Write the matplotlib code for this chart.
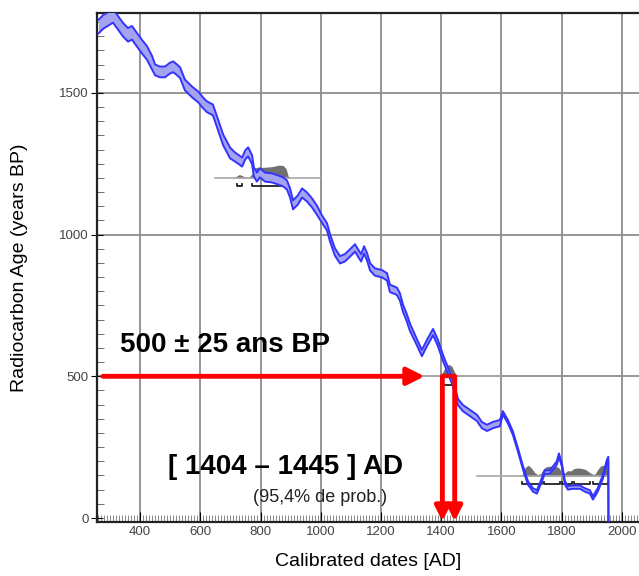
import numpy as np
import matplotlib
matplotlib.use("Agg")
import matplotlib.pyplot as plt
from matplotlib.ticker import MultipleLocator

plt.rcParams['font.family'] = ['Liberation Sans', 'DejaVu Sans']

# calibration curve (centre)
cal_years = [262, 277, 294, 310, 327, 344, 360, 373, 390, 407, 423, 440, 450, 466, 483,
             500, 510, 523, 533, 549, 573, 593, 609, 622, 642, 659, 676, 699, 715, 739,
             749, 759, 772, 778, 788, 798, 815, 838, 858, 875, 888, 898, 908, 924, 938,
             954, 971, 988, 1004, 1021, 1031, 1047, 1064, 1080, 1097, 1114, 1124, 1134,
             1144, 1154, 1164, 1180, 1203, 1220, 1230, 1253, 1263, 1273, 1286, 1296, 1319,
             1336, 1353, 1373, 1389, 1406, 1422, 1439, 1456, 1472, 1495, 1519, 1535, 1552,
             1572, 1595, 1605, 1622, 1638, 1655, 1671, 1688, 1705, 1718, 1734, 1744, 1761,
             1771, 1784, 1791, 1801, 1811, 1821, 1837, 1861, 1877, 1894, 1904, 1920, 1937,
             1950, 1955, 1956]
cal_ages = [1734, 1750, 1761, 1772, 1747, 1722, 1705, 1712, 1687, 1662, 1641, 1606, 1581,
            1574, 1574, 1588, 1592, 1581, 1571, 1528, 1503, 1486, 1465, 1451, 1440, 1387,
            1334, 1288, 1274, 1256, 1281, 1292, 1264, 1221, 1203, 1218, 1203, 1200, 1193,
            1186, 1175, 1147, 1105, 1122, 1147, 1133, 1112, 1085, 1055, 1027, 988, 939, 911,
            918, 935, 953, 935, 918, 946, 921, 886, 868, 862, 851, 810, 800, 780, 741, 706,
            674, 621, 582, 618, 656, 618, 565, 522, 476, 409, 388, 371, 353, 328, 318, 328,
            335, 371, 339, 300, 240, 180, 124, 99, 92, 134, 162, 162, 176, 194, 222, 187,
            124, 106, 109, 109, 99, 92, 71, 99, 145, 198, 210, -200]
# band half-width per period
sigma_limits = [450, 700, 1000, 1300, 1600]
sigma_values = [24, 19, 16, 13, 11, 6]

# probability distributions (gray) : baseline age, years, density
dist1_age = 1200
dist1_years = [650, 700, 715, 730, 745, 760, 772, 780, 790, 800, 820, 840, 860, 875, 885, 892, 900, 950, 1000]
dist1_dens = [0, 0, 3, 12, 5, 1, 14, 34, 38, 37, 38, 40, 45, 44, 33, 6, 0, 0, 0]
dist2_age = 500
dist2_years = [1330, 1395, 1405, 1415, 1425, 1435, 1445, 1452, 1600]
dist2_dens = [0, 0, 14, 36, 42, 36, 14, 0, 0]
dist3_age = 148
dist3_years = [1520, 1660, 1670, 1680, 1690, 1700, 1710, 1720, 1730, 1740, 1750, 1760, 1770,
               1780, 1790, 1800, 1810, 1820, 1830, 1840, 1850, 1860, 1870, 1880, 1890, 1900,
               1910, 1920, 1930, 1940, 1950, 1955]
dist3_dens = [0, 0, 7, 32, 38, 28, 13, 5, 8, 26, 33, 35, 32, 35, 30, 15, 10, 19, 18, 26, 28,
              28, 26, 23, 15, 8, 6, 23, 36, 38, 33, 0]

# ranges (brackets under the distributions)
range1_age = 1172
range1 = [(722, 740), (771, 891)]
range2_age = 469
range2 = [(1404, 1445)]
range3_age = 120
range3 = [(1668, 1735), (1740, 1795), (1800, 1835), (1840, 1895), (1905, 1955)]

# the highlighted sample
sample_age = 500
sample_from = 277
arrow_end = 1345
cal_low, cal_high = 1404, 1445

fig = plt.figure(figsize=(6.39, 5.76), dpi=100)
ax = fig.add_axes([0.1518, 0.0938, 0.8482, 0.8837])
ax.set_xlim(257, 2057)
ax.set_ylim(-14, 1782)

# grid
for gx in range(400, 2001, 200):
    ax.axvline(gx, color='#8c8c8c', lw=1.3, zorder=1)
for gy in [500, 1000, 1500]:
    ax.axhline(gy, color='#8c8c8c', lw=1.3, zorder=1)

# gray distributions
for base, yrs, dens in [(dist1_age, dist1_years, dist1_dens),
                        (dist2_age, dist2_years, dist2_dens),
                        (dist3_age, dist3_years, dist3_dens)]:
    yrs = np.array(yrs)
    top = base + np.array(dens)
    ax.fill_between(yrs, base, top, color='#707070', lw=0, zorder=2)
    ax.plot([yrs[0], yrs[-1]], [base, base], color='#a8a8a8', lw=1.2, zorder=2)

for base, rngs in [(range1_age, range1), (range2_age, range2), (range3_age, range3)]:
    for a, b in rngs:
        ax.plot([a, a, b, b], [base + 8, base, base, base + 8], color='#222222', lw=1.3, zorder=3)

# calibration curve band
x = np.array(cal_years)
y = np.array(cal_ages)
sig = np.array(sigma_values)[np.digitize(x, sigma_limits)]
ax.fill_between(x, y - sig, y + sig, color='#a3a3f2', lw=0, zorder=4)
ax.plot(x, y + sig, color='#3333ff', lw=1.4, zorder=5)
ax.plot(x, y - sig, color='#3333ff', lw=1.4, zorder=5)

# red arrows
ax.annotate('', xy=(arrow_end, sample_age), xytext=(sample_from, sample_age),
            arrowprops=dict(arrowstyle='-|>', color='red', lw=3.5, mutation_scale=26,
                            shrinkA=0, shrinkB=0), zorder=6)
ax.plot([cal_low, cal_high], [sample_age, sample_age], color='red', lw=3, zorder=6,
        solid_capstyle='butt')
for cx in [cal_low, cal_high]:
    ax.annotate('', xy=(cx, -12), xytext=(cx, sample_age),
                arrowprops=dict(arrowstyle='-|>', color='red', lw=3.5, mutation_scale=22,
                                shrinkA=0, shrinkB=0), zorder=6)

ax.text(334, 611, '500 \u00b1 25 ans BP', fontsize=20, fontweight='bold', va='center', ha='left')
ax.text(493, 180, '[ 1404 \u2013 1445 ] AD', fontsize=20, fontweight='bold', va='center', ha='left')
ax.text(775, 74, '(95,4% de prob.)', fontsize=13, va='center', ha='left', color='#222222')

# axes style
ax.spines['right'].set_visible(False)
for s in ['left', 'top', 'bottom']:
    ax.spines[s].set_linewidth(1.6)
    ax.spines[s].set_color('#222222')
ax.set_xticks(range(400, 2001, 200))
ax.set_yticks([0, 500, 1000, 1500])
ax.xaxis.set_minor_locator(MultipleLocator(10))
ax.yaxis.set_minor_locator(MultipleLocator(50))
ax.tick_params(axis='x', which='major', direction='in', length=7, labelsize=9.5,
               labelcolor='#444444', pad=3)
ax.tick_params(axis='x', which='minor', direction='in', length=5, color='#777777')
ax.tick_params(axis='y', which='major', direction='inout', length=8, labelsize=9.5,
               labelcolor='#444444', pad=2)
ax.tick_params(axis='y', which='minor', direction='in', length=5, color='#555555')

ax.set_xlabel('Calibrated dates [AD]', fontsize=14, labelpad=11)
ax.set_ylabel('Radiocarbon Age (years BP)', fontsize=14, labelpad=22)

fig.savefig('out.png', dpi=100)
